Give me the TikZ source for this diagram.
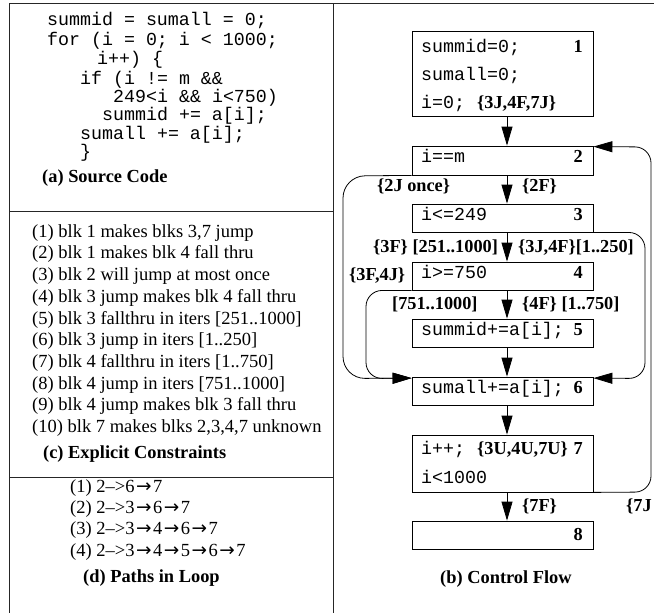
\documentclass[tikz,border=0pt]{standalone}
\usepackage{fontspec}
\setmainfont{Liberation Serif}
\setmonofont{Liberation Mono}
\newfontfamily\arrowfont{DejaVu Sans}
\newcommand{\rarr}{{\kern1.5pt\arrowfont\fontsize{18.5}{18.5}\selectfont →\kern1.5pt}}
\usetikzlibrary{arrows.meta,calc}
\tikzset{
  frameline/.style={line width=1pt, draw=black!85},
  blk/.style={draw, line width=0.8pt, rectangle, minimum width=181pt, inner sep=0pt},
  code/.style={font=\fontsize{18.3}{19}\selectfont\ttfamily, anchor=mid west, inner sep=0pt},
  txt/.style={font=\fontsize{18.5}{20}\selectfont, anchor=mid west, inner sep=0pt},
  capA/.style={font=\fontsize{18.4}{20}\selectfont\bfseries, anchor=mid west, inner sep=0pt},
  lbl/.style={font=\fontsize{18.3}{20}\selectfont\bfseries, anchor=mid west, inner sep=0pt},
  num/.style={font=\fontsize{18.3}{20}\selectfont\bfseries, anchor=mid east, inner sep=0pt},
  flow/.style={-{Triangle[length=19pt,width=11pt]}, line width=0.8pt},
  loopedge/.style={flow, rounded corners=16pt},
}
\begin{document}
\begin{tikzpicture}[x=1pt,y=-1pt]
\useasboundingbox (0,0) rectangle (654,613);
% frame
\draw[frameline] (9,613) -- (9,3) -- (654,3);
\draw[frameline] (333.5,3) -- (333.5,613);
\draw[frameline] (9,211.5) -- (333.5,211.5);
\draw[frameline] (9,477.5) -- (333.5,477.5);

% (a) source code
\node[code] (s1) at (47,23) {summid = sumall = 0;};
\node[code] (s2) at (47,43) {for (i = 0; i < 1000;};
\node[code] (s3) at (97,62) {i++) \{};
\node[code] (s4) at (80,82) {if (i != m \&\&};
\node[code] (s5) at (113,100) {249<i \&\& i<750)};
\node[code] (s6) at (102,118) {summid += a[i];};
\node[code] (s7) at (80,137) {sumall += a[i];};
\node[code] (s8) at (80,155) {\}};
\node[capA] (capa) at (42,180) {(a) Source Code};

% (c) explicit constraints
\node[txt] (c1) at (32,235) {(1) blk 1 makes blks 3,7 jump};
\node[txt] (c2) at (32,256.7) {(2) blk 1 makes blk 4 fall thru};
\node[txt] (c3) at (32,278.4) {(3) blk 2 will jump at most once};
\node[txt] (c4) at (32,300.1) {(4) blk 3 jump makes blk 4 fall thru};
\node[txt] (c5) at (32,321.8) {(5) blk 3 fallthru in iters [251..1000]};
\node[txt] (c6) at (32,343.5) {(6) blk 3 jump in iters [1..250]};
\node[txt] (c7) at (32,365.2) {(7) blk 4 fallthru in iters [1..750]};
\node[txt] (c8) at (32,386.9) {(8) blk 4 jump in iters [751..1000]};
\node[txt] (c9) at (32,408.6) {(9) blk 4 jump makes blk 3 fall thru};
\node[txt] (c10) at (32,430.3) {(10) blk 7 makes blks 2,3,4,7 unknown};
\node[capA] (capc) at (43,456) {(c) Explicit Constraints};

% (d) paths in loop
\node[txt] (d1) at (70,490) {(1) 2–>6\rarr7};
\node[txt] (d2) at (70,511) {(2) 2–>3\rarr6\rarr7};
\node[txt] (d3) at (70,532.5) {(3) 2–>3\rarr4\rarr6\rarr7};
\node[txt] (d4) at (70,554) {(4) 2–>3\rarr4\rarr5\rarr6\rarr7};
\node[capA] (capd) at (83,580) {(d) Paths in Loop};

% (b) control flow
\coordinate (ax) at (507,0);
\node[blk, minimum height=84.8pt] (b1) at (502.5,74.1) {};
\node[blk, minimum height=29pt] (b2) at (502.5,160.5) {};
\node[blk, minimum height=28pt] (b3) at (502.5,218) {};
\node[blk, minimum height=28pt] (b4) at (502.5,276) {};
\node[blk, minimum height=28pt] (b5) at (502.5,333) {};
\node[blk, minimum height=28pt] (b6) at (502.5,391) {};
\node[blk, minimum height=57pt] (b7) at (502.5,463.5) {};
\node[blk, minimum height=28pt] (b8) at (502.5,535) {};

\node[code] (t1a) at (421,50) {summid=0;};
\node[num] (n1) at (583,50) {1};
\node[code] (t1b) at (421,78.5) {sumall=0;};
\node[code] (t1c) at (421,106) {i=0;};
\node[lbl] (l1) at (477,106) {\{3J,4F,7J\}};
\node[code] (t2) at (421,160) {i==m};
\node[num] (n2) at (583,160) {2};
\node[code] (t3) at (421,218) {i<=249};
\node[num] (n3) at (583,218) {3};
\node[code] (t4) at (421,276) {i>=750};
\node[num] (n4) at (583,276) {4};
\node[code] (t5) at (421,333) {summid+=a[i];};
\node[num] (n5) at (583,333) {5};
\node[code] (t6) at (421,391) {sumall+=a[i];};
\node[num] (n6) at (583,391) {6};
\node[code] (t7a) at (421,452) {i++;};
\node[lbl] (l7) at (477,452) {\{3U,4U,7U\}};
\node[num] (n7) at (583,452) {7};
\node[code] (t7b) at (421,481) {i<1000};
\node[num] (n8) at (583,538) {8};
\node[capA] (capb) at (440,581) {(b) Control Flow};

% edge labels
\node[lbl] (e2j) at (377,189) {\{2J once\}};
\node[lbl] (e2f) at (522,189) {\{2F\}};
\node[lbl] (e3f) at (373,250) {\{3F\} [251..1000]};
\node[lbl] (e3j) at (518,250) {\{3J,4F\}[1..250]};
\node[lbl] (e4j) at (349,278) {\{3F,4J\}};
\node[lbl] (e4a) at (392,307) {[751..1000]};
\node[lbl] (e4f) at (522,307) {\{4F\} [1..750]};
\node[lbl] (e7f) at (522,509) {\{7F\}};
\node[lbl] (e7j) at (626,509) {\{7J};

% straight edges
\draw[flow] (b1.south -| ax) -- (b2.north -| ax);
\draw[flow] (b2.south -| ax) -- (b3.north -| ax);
\draw[flow] (b3.south -| ax) -- (b4.north -| ax);
\draw[flow] (b4.south -| ax) -- (b5.north -| ax);
\draw[flow] (b5.south -| ax) -- (b6.north -| ax);
\draw[flow] (b6.south -| ax) -- (b7.north -| ax);
\draw[flow] (b7.south -| ax) -- (b8.north -| ax);

% loop edges
\draw[loopedge, rounded corners=22pt] (b2.south west) -- (343,176) -- (343,378.5) -- ($(b6.north west)+(0,1.5)$);
\draw[loopedge] (b4.south west) -- (366,290.5) -- (366,378.5) -- ($(b6.north west)+(0,1.5)$);
\draw[loopedge] (b3.south east) -- (645,232.5) -- (645,378.5) -- ($(b6.north east)+(0,1.5)$);
\draw[loopedge] (b7.south east) -- (651,492) -- (651,147) -- ($(b2.north east)+(0,1)$);
\end{tikzpicture}
\end{document}
